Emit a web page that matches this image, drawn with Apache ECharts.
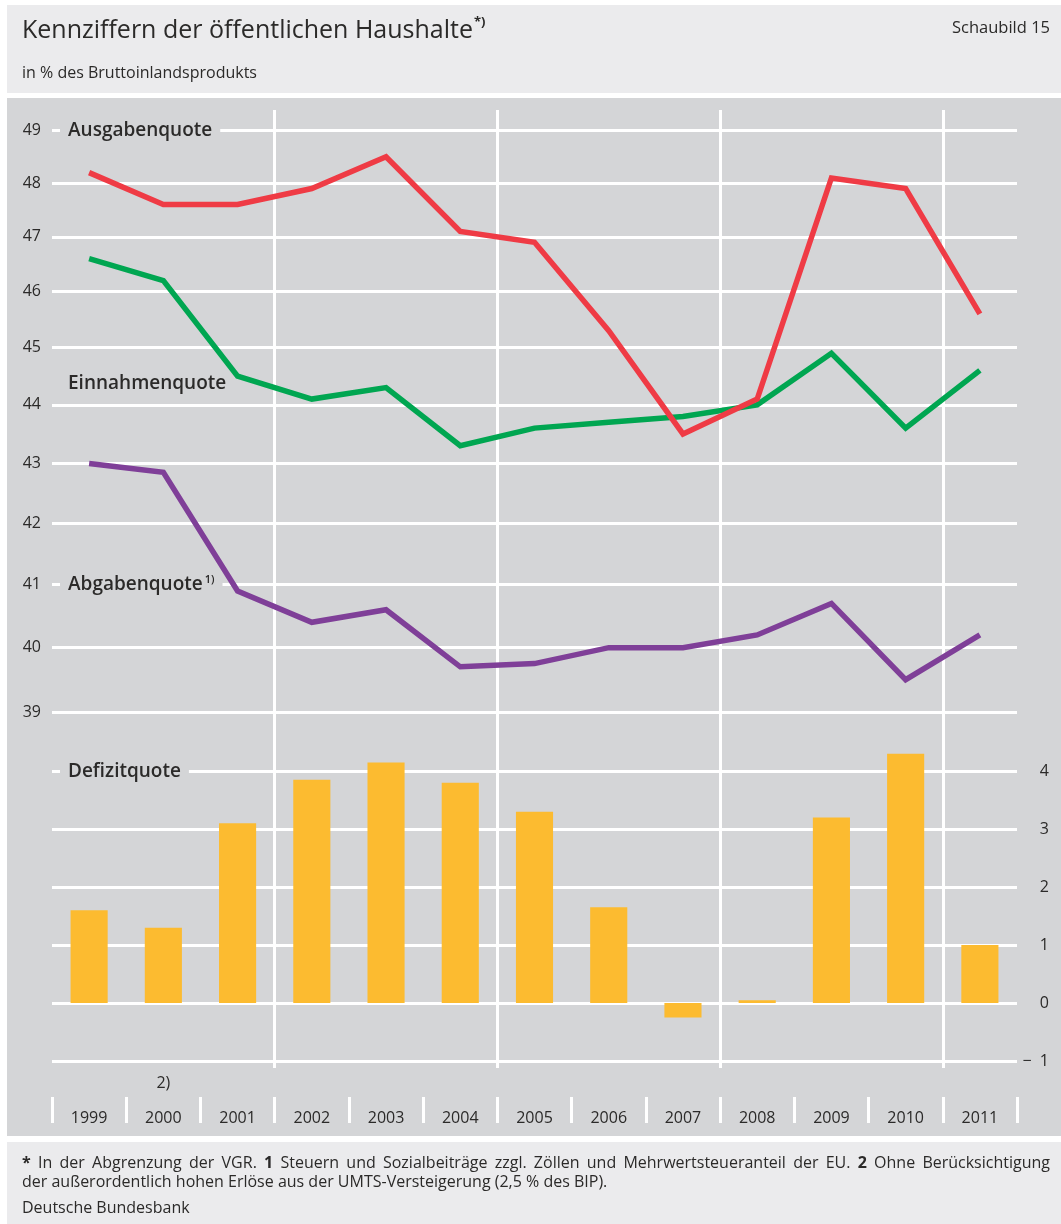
<!DOCTYPE html>
<html><head><meta charset="utf-8">
<script src="https://cdn.jsdelivr.net/npm/echarts@6/dist/echarts.min.js"></script>
<style>html,body{margin:0;padding:0;background:#fff}#c{width:1061px;height:1224px}</style>
</head><body><div id="c"></div>
<script>
const years = ['1999','2000','2001','2002','2003','2004','2005','2006','2007','2008','2009','2010','2011'];
const ausgabenquote = [48.2, 47.6, 47.6, 47.9, 48.5, 47.1, 46.9, 45.3, 43.5, 44.1, 48.1, 47.9, 45.6];
const einnahmenquote = [46.6, 46.2, 44.5, 44.1, 44.3, 43.3, 43.6, 43.7, 43.8, 44.0, 44.9, 43.6, 44.6];
const abgabenquote = [43.0, 42.85, 40.9, 40.4, 40.6, 39.7, 39.75, 40.0, 40.0, 40.2, 40.7, 39.5, 40.2];
const defizitquote = [1.6, 1.3, 3.1, 3.85, 4.15, 3.8, 3.3, 1.65, -0.25, 0.05, 3.2, 4.3, 1.0];
const upperTicks = [39, 40, 41, 42, 43, 44, 45, 46, 47, 48, 49];
const lowerTicks = [-1, 0, 1, 2, 3, 4];

const FONT = '"Open Sans", "Noto Sans", sans-serif';
const TXT = '#2b2a29';
const BG = '#d4d5d7';
const chart = echarts.init(document.getElementById('c'), null, {renderer: 'canvas'});

const vInterval = function (idx) { return idx > 0 && idx < 13 && idx % 3 === 0; };

const option = {
  animation: false,
  textStyle: {fontFamily: FONT},
  grid: [
    {left: 52, right: 44, top: 110, height: 635, containLabel: false, outerBoundsMode: 'none'},
    {left: 52, right: 44, top: 745, height: 323, containLabel: false, outerBoundsMode: 'none'}
  ],
  xAxis: [
    {type: 'category', gridIndex: 0, data: years, boundaryGap: true,
     axisLine: {show: false, onZero: false}, axisTick: {show: false}, axisLabel: {show: false},
     splitLine: {show: true, interval: vInterval, showMinLine: true, showMaxLine: false, lineStyle: {color: '#ffffff', width: 3}}},
    {type: 'category', gridIndex: 1, data: years, boundaryGap: true, position: 'bottom', offset: 29,
     axisLine: {show: false, onZero: false},
     axisTick: {show: true, interval: 0, inside: false, length: 26, lineStyle: {color: '#ffffff', width: 3}},
     axisLabel: {show: true, interval: 0, margin: 13, color: TXT, fontSize: 16, fontFamily: FONT},
     splitLine: {show: true, interval: vInterval, showMinLine: true, showMaxLine: false, lineStyle: {color: '#ffffff', width: 3}}}
  ],
  yAxis: [
    {type: 'log', gridIndex: 0, logBase: 10, min: 38.5, max: 49.4, position: 'left',
     axisLine: {show: false},
     axisTick: {show: false, customValues: upperTicks},
     axisLabel: {show: true, customValues: upperTicks, margin: 11, color: TXT, fontSize: 16, fontFamily: FONT,
                 formatter: function (v) { return String(Math.round(v)); }},
     splitLine: {show: true, lineStyle: {color: '#ffffff', width: 3}}},
    {type: 'value', gridIndex: 1, min: -1.12, max: 4.45, position: 'right',
     axisLine: {show: false},
     axisTick: {show: false, customValues: lowerTicks},
     axisLabel: {show: true, customValues: lowerTicks, margin: 32, align: 'right', color: TXT, fontSize: 16, fontFamily: FONT,
                 formatter: function (v) { const r = Math.round(v); return r < 0 ? '\u2212  ' + Math.abs(r) : String(r); }},
     splitLine: {show: true, lineStyle: {color: '#ffffff', width: 3}}}
  ],
  series: [
    {name: 'Defizitquote', type: 'bar', xAxisIndex: 1, yAxisIndex: 1, data: defizitquote,
     barWidth: '50%', itemStyle: {color: '#fcbb30'}, z: 3},
    {name: 'Einnahmenquote', type: 'line', xAxisIndex: 0, yAxisIndex: 0, data: einnahmenquote,
     showSymbol: false, symbol: 'none', lineStyle: {color: '#00a651', width: 5.5, join: 'miter'}, z: 4},
    {name: 'Ausgabenquote', type: 'line', xAxisIndex: 0, yAxisIndex: 0, data: ausgabenquote,
     showSymbol: false, symbol: 'none', lineStyle: {color: '#ef3b45', width: 5.5, join: 'miter'}, z: 5},
    {name: 'Abgabenquote', type: 'line', xAxisIndex: 0, yAxisIndex: 0, data: abgabenquote,
     showSymbol: false, symbol: 'none', lineStyle: {color: '#7f3f98', width: 5.5, join: 'miter'}, z: 5}
  ]
};
chart.setOption(option);

const yU = function (v) { return chart.convertToPixel({yAxisIndex: 0}, v); };
const yL = function (v) { return chart.convertToPixel({yAxisIndex: 1}, v); };
const xC = function (i) { return chart.convertToPixel({xAxisIndex: 1}, years[i]); };

function seriesLabel(text, y, sup) {
  const rich = {
    m: {fontFamily: FONT, fontSize: 19, fontWeight: 600, color: TXT},
    s: {fontFamily: FONT, fontSize: 11, fontWeight: 600, color: TXT, verticalAlign: 'top', padding: [0, 0, 10, 2]}
  };
  return {type: 'text', x: 60, y: y, z: 50,
          style: {text: '{m|' + text + '}' + (sup ? '{s|' + sup + '}' : ''), rich: rich, verticalAlign: 'middle',
                  backgroundColor: BG, padding: [0, 8, 0, 8], fill: TXT}};
}

function txt(text, x, y, size, extra) {
  const st = Object.assign({text: text, fontFamily: FONT, fontSize: size, fill: TXT, verticalAlign: 'middle', align: 'left'}, extra || {});
  return {type: 'text', x: x, y: y, z: 20, style: st};
}

// justified first footnote line (text positions only)
const ctx = document.createElement('canvas').getContext('2d');
function measure(t, bold) { ctx.font = (bold ? '700 ' : '400 ') + '16px "Open Sans"'; return ctx.measureText(t).width; }
const footWords = [['*', true], ['In', false], ['der', false], ['Abgrenzung', false], ['der', false], ['VGR.', false], ['1', true],
  ['Steuern', false], ['und', false], ['Sozialbeiträge', false], ['zzgl.', false], ['Zöllen', false], ['und', false],
  ['Mehrwertsteueranteil', false], ['der', false], ['EU.', false], ['2', true], ['Ohne', false], ['Berücksichtigung', false]];
const footEls = [];
(function () {
  const left = 22, right = 1050;
  let total = 0;
  footWords.forEach(function (w) { total += measure(w[0], w[1]); });
  const gap = (right - left - total) / (footWords.length - 1);
  let x = left;
  footWords.forEach(function (w) {
    footEls.push(txt(w[0], x, 1163, 16, {fontWeight: w[1] ? 700 : 400}));
    x += measure(w[0], w[1]) + gap;
  });
})();

chart.setOption({
  graphic: [
    {type: 'rect', z: -10, shape: {x: 7, y: 5, width: 1054, height: 88}, style: {fill: '#ebebed'}},
    {type: 'rect', z: -10, shape: {x: 7, y: 98, width: 1054, height: 1038}, style: {fill: BG}},
    {type: 'rect', z: -10, shape: {x: 7, y: 1142, width: 1054, height: 82}, style: {fill: '#ebebed'}},
    txt('Kennziffern der öffentlichen Haushalte', 22, 31, 25),
    txt('*)', 474, 22, 13, {fontWeight: 700}),
    txt('Schaubild 15', 1050, 28, 16.5, {align: 'right'}),
    txt('in % des Bruttoinlandsprodukts', 22, 73, 16),
    seriesLabel('Ausgabenquote', yU(49)),
    {type: 'text', x: 60, y: 384, z: 50, style: {text: 'Einnahmenquote', fontFamily: FONT, fontSize: 19, fontWeight: 600, fill: TXT, verticalAlign: 'middle', padding: [0, 8, 0, 8]}},
    seriesLabel('Abgabenquote', yU(41), '1)'),
    seriesLabel('Defizitquote', yL(4)),
    txt('2)', xC(1), 1083, 16, {align: 'center'}),
    txt('der außerordentlich hohen Erlöse aus der UMTS-Versteigerung (2,5 % des BIP).', 22, 1182, 16),
    txt('Deutsche Bundesbank', 22, 1208, 16)
  ].concat(footEls)
});
</script></body></html>
